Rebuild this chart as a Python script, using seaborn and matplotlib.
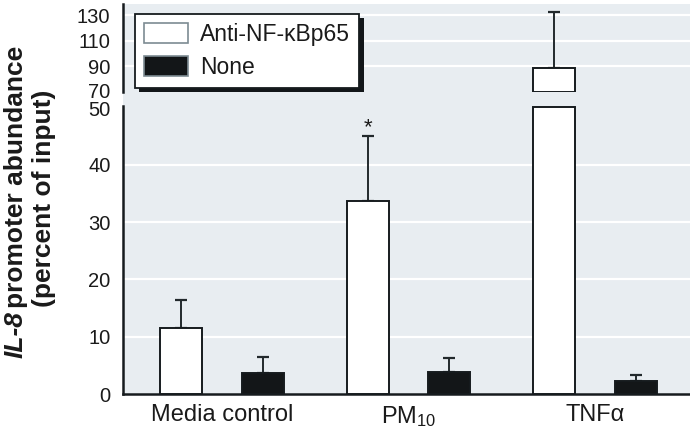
import numpy as np
import pandas as pd
import matplotlib
matplotlib.use("Agg")
import matplotlib.pyplot as plt
from matplotlib.patches import Rectangle
from matplotlib.container import BarContainer
from matplotlib.transforms import ScaledTranslation
import seaborn as sns

# ---------------- data ----------------
categories = ["Media control", "PM$_{10}$", "TNF\u03b1"]
treatments = ["Anti-NF-\u03baBp65", "None"]
anti_means = [11.6, 33.6, 89.0]
anti_err = [4.8, 11.5, 43.5]
none_means = [3.6, 3.8, 2.3]
none_err = [2.8, 2.5, 1.0]
lower_ticks = [0, 10, 20, 30, 40, 50]
upper_ticks = [70, 90, 110, 130]
significant = [False, True, False]

sns.set_theme(style="white")
FONT = ["Liberation Sans", "DejaVu Sans"]
plt.rcParams["font.family"] = FONT
plt.rcParams["mathtext.fontset"] = "custom"
plt.rcParams["mathtext.rm"] = "Liberation Sans"
plt.rcParams["mathtext.default"] = "regular"

df = pd.DataFrame({
    "category": categories * 2,
    "treatment": [treatments[0]] * 3 + [treatments[1]] * 3,
    "value": anti_means + none_means,
})
errs = [anti_err, none_err]

W, H = 690, 440
fig = plt.figure(figsize=(W / 100, H / 100), dpi=100)
fig.patch.set_facecolor("white")

BG = "#e8edf1"
DARK = "#161b1e"
TXT = "#1a1a1a"
left_px, right_px = 123, 690
lo_bot, lo_top = 394, 106
hi_bot, hi_top = 92, 4

fig.patches.append(Rectangle((left_px / W, (H - lo_bot) / H),
                             (right_px - left_px) / W, (lo_bot - hi_top) / H,
                             transform=fig.transFigure, facecolor=BG,
                             edgecolor="none", zorder=-5))

ax_lo = fig.add_axes([left_px / W, (H - lo_bot) / H, (right_px - left_px) / W, (lo_bot - lo_top) / H])
ax_hi = fig.add_axes([left_px / W, (H - hi_bot) / H, (right_px - left_px) / W, (hi_bot - hi_top) / H])

palette = {treatments[0]: "white", treatments[1]: "#121619"}
bars_of = {}
for ax in (ax_lo, ax_hi):
    ax.set_facecolor("none")
    sns.barplot(data=df, x="category", y="value", hue="treatment",
                palette=palette, edgecolor=DARK, linewidth=1.4,
                width=0.874, gap=0.485, errorbar=None, ax=ax,
                legend=(ax is ax_hi), zorder=3)
    ax.set_xlim(-0.531, 2.51)
    ax.set_xlabel("")
    ax.set_ylabel("")
    conts = [c for c in ax.containers if isinstance(c, BarContainer)]
    bars_of[ax] = conts
    for ci, cont in enumerate(conts):
        for bi, bar in enumerate(cont):
            x = bar.get_x() + bar.get_width() / 2
            y = bar.get_y() + bar.get_height()
            ax.errorbar([x], [y], yerr=[[0], [errs[ci][bi]]], fmt="none",
                        ecolor="#22292c", elinewidth=1.4, capsize=4.5,
                        capthick=1.6, zorder=2)

ax_lo.set_ylim(0, 50.25)
ax_hi.set_ylim(70, 138.6)
ax_lo.set_yticks(lower_ticks)
ax_hi.set_yticks(upper_ticks)

# cut bars at the axis break
top = 50.1
for cont in bars_of[ax_lo]:
    for bar in cont:
        if bar.get_height() > top:
            bar.set_height(top)
bottom = ax_hi.get_ylim()[0]
for cont in bars_of[ax_hi]:
    for bar in cont:
        t = bar.get_y() + bar.get_height()
        if t > bottom:
            bar.set_y(bottom)
            bar.set_height(t - bottom)

for ax in (ax_lo, ax_hi):
    ax.set_axisbelow(True)
    ax.yaxis.grid(True, color="white", linewidth=1.6)
    ax.xaxis.grid(False)
    for s in ("top", "right"):
        ax.spines[s].set_visible(False)
    ax.spines["left"].set_color(DARK)
    ax.spines["left"].set_linewidth(1.8)
    ax.tick_params(axis="y", length=0, pad=9, labelsize=14.5, colors=TXT)
    ax.tick_params(axis="x", length=0, pad=7, labelsize=17, colors=TXT)

for gl, v in zip(ax_lo.get_ygridlines(), lower_ticks):
    if v in (0, 50):
        gl.set_visible(False)
for gl, v in zip(ax_hi.get_ygridlines(), upper_ticks):
    if v == 70:
        gl.set_visible(False)

ax_lo.spines["bottom"].set_color(DARK)
ax_lo.spines["bottom"].set_linewidth(1.8)
ax_hi.spines["bottom"].set_visible(False)
ax_hi.set_xticks([])

# nudge the two labels at the break apart a little
for lab, v in zip(ax_hi.get_yticklabels(), upper_ticks):
    if v == 70:
        lab.set_transform(lab.get_transform() + ScaledTranslation(0, 2 / 100, fig.dpi_scale_trans))
for lab, v in zip(ax_lo.get_yticklabels(), lower_ticks):
    if v == 50:
        lab.set_transform(lab.get_transform() + ScaledTranslation(0, -1 / 100, fig.dpi_scale_trans))

# break marks
ax_lo.set_yticks([50], minor=True)
ax_hi.set_yticks([70], minor=True)
for ax in (ax_lo, ax_hi):
    ax.tick_params(axis="y", which="minor", direction="inout", length=9.5,
                   width=1.4, color=DARK, left=True, labelleft=False)

# significance asterisk
for bi, (bar, sig) in enumerate(zip(bars_of[ax_lo][0], significant)):
    if sig:
        x = bar.get_x() + bar.get_width() / 2
        y = bar.get_y() + bar.get_height() + anti_err[bi]
        ax_lo.annotate("*", (x, y), xytext=(0, -2), textcoords="offset points",
                       ha="center", va="bottom", fontsize=16, color=TXT)

# legend
handles, labels = ax_hi.get_legend_handles_labels()
if ax_hi.get_legend() is not None:
    ax_hi.get_legend().remove()
leg = ax_hi.legend(handles, labels, loc="lower left", bbox_to_anchor=(0.021, 0.045),
                   borderaxespad=0, fontsize=16.5, frameon=True, fancybox=False,
                   edgecolor=DARK, framealpha=1, handlelength=1.9, handleheight=0.95,
                   labelspacing=0.42, handletextpad=0.55, borderpad=0.4,
                   shadow={"ox": 3, "oy": -3, "facecolor": "#121619",
                           "edgecolor": "none", "alpha": 1})
leg.get_frame().set_linewidth(1.3)
leg.set_zorder(10)
for h in leg.legend_handles:
    h.set_edgecolor("#7d8b92")
    h.set_linewidth(1.2)
for t in leg.get_texts():
    t.set_color(TXT)

# y label (two lines, first with bold-italic IL-8)
fig.canvas.draw()
renderer = fig.canvas.get_renderer()
ylab_size = 19
t1 = fig.text(0, 0, "IL-8", rotation=90, rotation_mode="anchor", ha="left",
              va="center", fontsize=ylab_size, fontweight="bold", fontstyle="italic",
              color=TXT)
t2 = fig.text(0, 0, "promoter abundance", rotation=90, rotation_mode="anchor",
              ha="left", va="center", fontsize=ylab_size, fontweight="bold",
              color=TXT)
h1 = t1.get_window_extent(renderer).height
h2 = t2.get_window_extent(renderer).height
gap = 3
total = h1 + gap + h2
cy = H - 202
start = cy - total / 2
x1 = 16
t1.set_position((x1 / W, start / H))
t2.set_position((x1 / W, (start + h1 + gap) / H))
fig.text(44 / W, (H - 198) / H, "(percent of input)", rotation=90,
         rotation_mode="anchor", ha="center", va="center", fontsize=ylab_size,
         fontweight="bold", color=TXT)

fig.savefig("out.png", dpi=100, facecolor="white")
